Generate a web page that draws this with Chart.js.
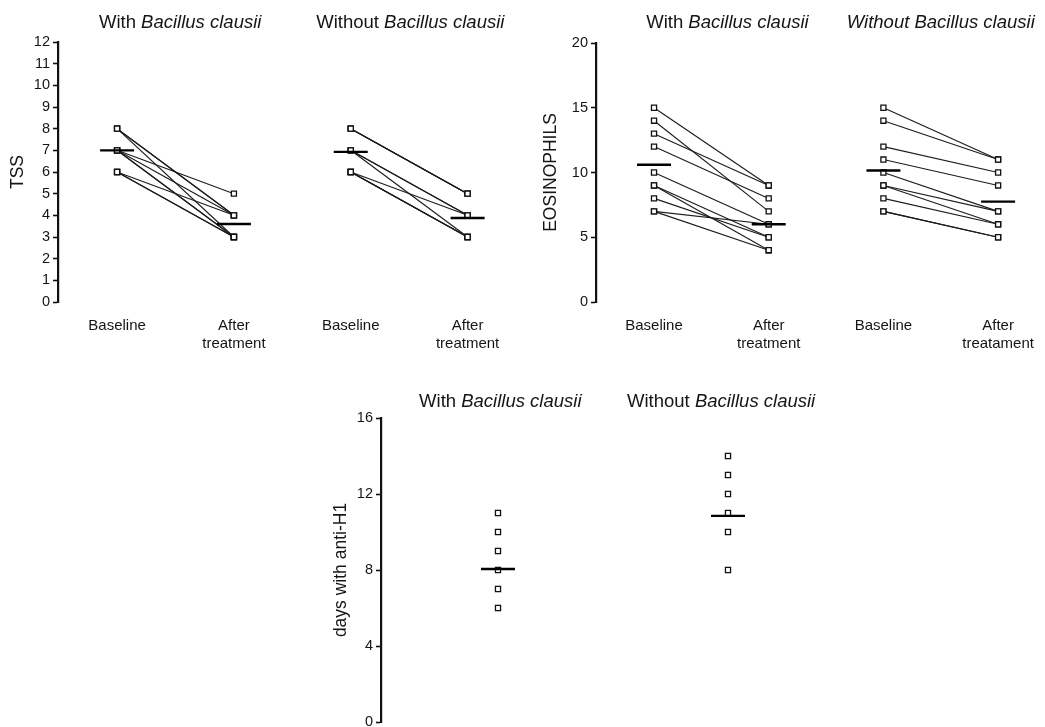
<!DOCTYPE html>
<html><head><meta charset="utf-8">
<script src="https://cdn.jsdelivr.net/npm/chart.js@4/dist/chart.umd.min.js"></script>
<style>
html,body{margin:0;padding:0;background:#fff;overflow:hidden;width:1045px;height:727px;}
.p{position:absolute;}
canvas{display:block;}
</style></head><body>
<div class="p" style="left:0;top:0;"><canvas id="c1" width="526" height="360"></canvas></div>
<div class="p" style="left:520px;top:0;"><canvas id="c2" width="524" height="360"></canvas></div>
<div class="p" style="left:300px;top:380px;"><canvas id="c3" width="543" height="360"></canvas></div>
<script>
// ---------- data ----------
const tssCategories = ['Baseline', ['After', 'treatment'], 'Baseline', ['After', 'treatment']];
const eosCategories = ['Baseline', ['After', 'treatment'], 'Baseline', ['After', 'treatament']];
const groupWith = [{text: 'With ', italic: false}, {text: 'Bacillus clausii', italic: true}];
const groupWithout = [{text: 'Without ', italic: false}, {text: 'Bacillus clausii', italic: true}];
const groupWithoutAllItalic = [{text: 'Without Bacillus clausii', italic: true}];

const tssWithBaseline    = [8, 8, 8, 7, 7, 7, 7, 6, 6, 6];
const tssWithAfter       = [4, 4, 3, 5, 3, 3, 4, 4, 3, 3];
const tssWithoutBaseline = [8, 8, 8, 7, 7, 7, 6, 6, 6, 6];
const tssWithoutAfter    = [5, 5, 5, 4, 4, 3, 4, 3, 3, 3];
const tssMeanBaseline    = [7.0, 6.93];
const tssMeanAfter       = [3.6, 3.88];

const eosWithBaseline    = [15, 14, 13, 12, 10, 9, 9, 8, 7, 7];
const eosWithAfter       = [9, 7, 9, 8, 6, 5, 4, 5, 6, 4];
const eosWithoutBaseline = [15, 14, 12, 11, 10, 9, 9, 8, 7, 7];
const eosWithoutAfter    = [11, 11, 10, 9, 7, 7, 6, 6, 5, 5];
const eosMeanBaseline    = [10.6, 10.15];
const eosMeanAfter       = [6.0, 7.75];

const h1With    = [11, 10, 9, 8, 7, 6];
const h1Without = [14, 13, 12, 11, 10, 8];
const h1Mean    = [8.05, 10.85];

// ---------- helpers ----------
const FAMILY = '"Liberation Sans", Arial, Helvetica, sans-serif';
Chart.defaults.font.family = FAMILY;
Chart.defaults.color = '#151515';

function pairedDatasets(base, after, xb, xa) {
  return base.map((b, i) => ({
    type: 'line',
    data: [{x: xb, y: b}, {x: xa, y: after[i]}],
    borderColor: '#1c1c1c', borderWidth: 1.15,
    pointRadius: 0, fill: false, order: 3
  }));
}
function pointsDataset(values, x) {
  return {
    type: 'scatter',
    data: values.map(v => ({x: x, y: v})),
    pointStyle: 'rect', pointRadius: 3.6,
    pointBackgroundColor: '#ffffff', pointBorderColor: '#111', pointBorderWidth: 1.3,
    showLine: false, order: 2
  };
}
function meanDataset(means, xs) {
  return {
    type: 'scatter',
    data: means.map((m, i) => ({x: xs[i], y: m})),
    pointStyle: 'line', pointRadius: 17,
    pointBorderColor: '#000', pointBorderWidth: 2.4,
    showLine: false, order: 1
  };
}

const groupTitlePlugin = {
  id: 'groupTitles',
  afterDraw(chart, args, opts) {
    const ctx = chart.ctx, xs = chart.scales.x;
    ctx.save();
    ctx.textBaseline = 'middle';
    ctx.textAlign = 'left';
    ctx.fillStyle = '#151515';
    opts.items.forEach(item => {
      let total = 0;
      const parts = item.parts.map(p => {
        ctx.font = (p.italic ? 'italic ' : '') + opts.size + 'px ' + FAMILY;
        const w = ctx.measureText(p.text).width;
        total += w;
        return {text: p.text, italic: p.italic, w: w};
      });
      let x = xs.getPixelForValue(item.x) - total / 2;
      parts.forEach(p => {
        ctx.font = (p.italic ? 'italic ' : '') + opts.size + 'px ' + FAMILY;
        ctx.fillText(p.text, x, opts.y);
        x += p.w;
      });
    });
    ctx.restore();
  }
};

function yAxis(min, max, step, title, width, titlePad) {
  return {
    type: 'linear', position: 'left', min: min, max: max,
    afterFit: s => { s.width = width; },
    ticks: {stepSize: step, font: {size: 14.5}, padding: 3, color: '#151515'},
    grid: {display: true, drawOnChartArea: false, drawTicks: true, tickLength: 5, tickWidth: 1.6, color: '#111'},
    border: {display: true, width: 2.2, color: '#111'},
    title: {display: true, text: title, font: {size: 17.5}, padding: {top: titlePad, bottom: 0}, color: '#151515'}
  };
}
function xAxisCats(min, max, labels) {
  return {
    type: 'linear', position: 'bottom', min: min, max: max,
    afterFit: s => { s.height = 58; s.paddingLeft = 0; s.paddingRight = 0; },
    afterBuildTicks: s => { s.ticks = labels.map((l, i) => ({value: i + 1})); },
    ticks: {
      autoSkip: false, maxRotation: 0, minRotation: 0, padding: 14.5,
      font: {size: 15, lineHeight: 1.2}, color: '#151515',
      callback: v => labels[Math.round(v) - 1]
    },
    grid: {display: false, drawTicks: false},
    border: {display: false}
  };
}
const common = {
  responsive: false, animation: false, devicePixelRatio: 1,
  events: [],
  plugins: {legend: {display: false}, tooltip: {enabled: false}}
};

// ---------- chart 1: TSS ----------
new Chart(document.getElementById('c1'), {
  type: 'scatter',
  data: {datasets: [
    ...pairedDatasets(tssWithBaseline, tssWithAfter, 1, 2),
    ...pairedDatasets(tssWithoutBaseline, tssWithoutAfter, 3, 4),
    pointsDataset(tssWithBaseline, 1), pointsDataset(tssWithAfter, 2),
    pointsDataset(tssWithoutBaseline, 3), pointsDataset(tssWithoutAfter, 4),
    meanDataset([tssMeanBaseline[0], tssMeanAfter[0], tssMeanBaseline[1], tssMeanAfter[1]], [1, 2, 3, 4])
  ]},
  options: Object.assign({}, common, {
    layout: {autoPadding: false, padding: {top: 42, left: 0, right: 0, bottom: 0}},
    scales: {
      x: xAxisCats(0.4943, 4.5, tssCategories),
      y: yAxis(0, 12, 1, 'TSS', 58, 8)
    },
    plugins: Object.assign({}, common.plugins, {
      groupTitles: {size: 18.5, y: 23, items: [
        {x: 1.54, parts: groupWith},
        {x: 3.51, parts: groupWithout}
      ]}
    })
  }),
  plugins: [groupTitlePlugin]
});

// ---------- chart 2: EOSINOPHILS ----------
new Chart(document.getElementById('c2'), {
  type: 'scatter',
  data: {datasets: [
    ...pairedDatasets(eosWithBaseline, eosWithAfter, 1, 2),
    ...pairedDatasets(eosWithoutBaseline, eosWithoutAfter, 3, 4),
    pointsDataset(eosWithBaseline, 1), pointsDataset(eosWithAfter, 2),
    pointsDataset(eosWithoutBaseline, 3), pointsDataset(eosWithoutAfter, 4),
    meanDataset([eosMeanBaseline[0], eosMeanAfter[0], eosMeanBaseline[1], eosMeanAfter[1]], [1, 2, 3, 4])
  ]},
  options: Object.assign({}, common, {
    layout: {autoPadding: false, padding: {top: 43, left: 0, right: 0, bottom: 0}},
    scales: {
      x: xAxisCats(0.4942, 4.4, eosCategories),
      y: yAxis(0, 20, 5, 'EOSINOPHILS', 76, 21)
    },
    plugins: Object.assign({}, common.plugins, {
      groupTitles: {size: 18.5, y: 23, items: [
        {x: 1.64, parts: groupWith},
        {x: 3.5, parts: groupWithoutAllItalic}
      ]}
    })
  }),
  plugins: [groupTitlePlugin]
});

// ---------- chart 3: days with anti-H1 ----------
new Chart(document.getElementById('c3'), {
  type: 'scatter',
  data: {datasets: [
    pointsDataset(h1With, 1), pointsDataset(h1Without, 2),
    meanDataset(h1Mean, [1, 2])
  ]},
  options: Object.assign({}, common, {
    layout: {autoPadding: false, padding: {top: 38, left: 0, right: 0, bottom: 18}},
    scales: {
      x: {type: 'linear', min: 0.4913, max: 2.5, display: false},
      y: yAxis(0, 16, 4, 'days with anti-H1', 81, 31)
    },
    plugins: Object.assign({}, common.plugins, {
      groupTitles: {size: 18.5, y: 22, items: [
        {x: 1.01, parts: groupWith},
        {x: 1.97, parts: groupWithout}
      ]}
    })
  }),
  plugins: [groupTitlePlugin]
});
</script>
</body></html>
